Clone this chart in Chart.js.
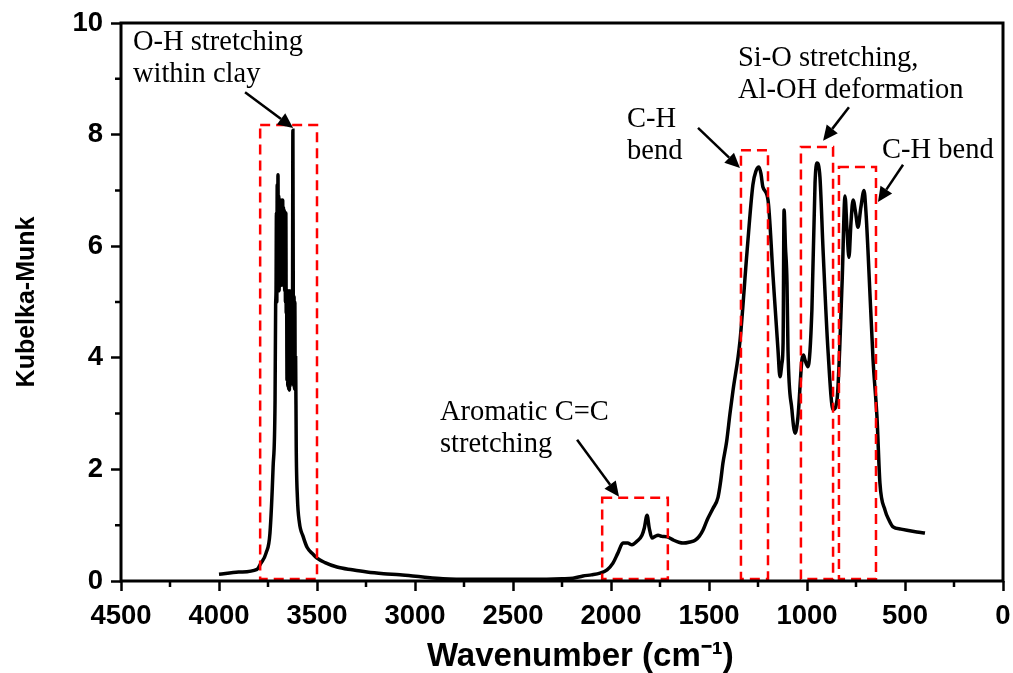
<!DOCTYPE html>
<html>
<head>
<meta charset="utf-8">
<script src="https://cdn.jsdelivr.net/npm/chart.js@4/dist/chart.umd.min.js"></script>
<style>
	html, body { margin: 0; padding: 0; background: #fff; }
	#wrap { width: 1013px; height: 673px; }
</style>
</head>
<body>
<div id="wrap"><canvas id="spectrum"></canvas></div>
<script>
// spectrum (wavenumber in cm-1, Kubelka-Munk units)
const wavenumber = [
	4000, 3900, 3806, 3786, 3760, 3740, 3724, 3714, 3711, 3709, 3707, 3705, 3703, 3701,
	3699, 3697, 3695, 3693, 3691, 3689, 3687, 3685, 3683, 3681, 3679, 3677, 3675, 3673,
	3671, 3669, 3667, 3665, 3663, 3661, 3659, 3657, 3655, 3653, 3651, 3649, 3647, 3645,
	3643, 3641, 3639, 3637, 3635, 3632, 3629, 3625, 3623, 3621, 3619, 3617, 3615, 3613,
	3611, 3609, 3606, 3600, 3590, 3571, 3550, 3520, 3500, 3459, 3398, 3320, 3245,
	3160, 3077, 2960, 2857, 2700, 2566, 2400, 2250, 2194, 2143, 2100, 2056, 2020, 1990,
	1965, 1939, 1915, 1893, 1865, 1842, 1830, 1816, 1805, 1791, 1775, 1760, 1740, 1714,
	1680, 1650, 1633, 1597, 1571, 1550, 1531, 1510, 1480, 1454, 1440, 1429, 1410, 1393,
	1378, 1342, 1306, 1276, 1260, 1245, 1235, 1225, 1199, 1173, 1148, 1138, 1128, 1122,
	1117, 1110, 1102, 1097, 1077, 1061, 1046, 1026, 1018, 1010, 995, 975, 959, 949,
	934, 918, 893, 867, 847, 821, 806, 796, 786, 776, 765, 752, 740, 725,
	709, 699, 689, 663, 643, 628, 602, 580, 561, 520, 490, 440, 398
];
const kubelkaMunk = [
	0.12, 0.16, 0.21, 0.32, 0.5, 0.86, 2.04, 3.24, 4.95, 5.2, 6.6, 5.0, 7.1, 5.3,
	7.28, 5.4, 6.9, 5.2, 6.7, 5.3, 6.8, 5.4, 6.83, 5.3, 6.8, 5.4, 6.83, 5.3,
	6.7, 5.5, 6.65, 5.2, 6.6, 5.0, 6.6, 4.8, 5.2, 3.6, 5.1, 3.5, 5.2, 3.45,
	5.0, 3.42, 5.2, 3.5, 5.1, 3.6, 5.0, 5.0, 8.08, 5.0, 3.5, 5.1, 3.45, 5.0,
	3.42, 4.0, 2.4, 1.5, 1.05, 0.8, 0.6, 0.48, 0.41, 0.33, 0.25, 0.2, 0.16,
	0.13, 0.11, 0.07, 0.04, 0.03, 0.03, 0.03, 0.04, 0.05, 0.09, 0.11, 0.14, 0.2, 0.32,
	0.5, 0.68, 0.68, 0.65, 0.72, 0.82, 0.95, 1.18, 0.95, 0.77, 0.8, 0.82, 0.8, 0.79,
	0.73, 0.69, 0.68, 0.7, 0.73, 0.8, 0.91, 1.09, 1.3, 1.5, 1.8, 2.11, 2.5, 3.0,
	3.4, 4.3, 5.9, 7.1, 7.35, 7.42, 7.3, 7.06, 6.83, 5.45, 4.14, 3.66, 3.9, 4.27,
	6.65, 6.0, 5.34, 4.14, 3.07, 2.65, 2.94, 3.96, 4.05, 3.96, 3.84, 4.86, 7.13, 7.49,
	7.24, 5.93, 4.14, 3.07, 3.24, 5.34, 6.9, 6.3, 5.8, 6.4, 6.83, 6.6, 6.34, 6.7,
	7.0, 6.6, 5.93, 3.96, 2.94, 1.76, 1.27, 1.08, 0.97, 0.93, 0.91, 0.88, 0.86
];

// band regions marked with dashed boxes: [from, to, top]
const bandFrom = [3790, 2045, 1337, 1031, 837];
const bandTo = [3500, 1710, 1199, 867, 648];
const bandTop = [8.17, 1.49, 7.72, 7.78, 7.42];

// annotation texts
const noteLines = [
	['O-H stretching', 'within clay'],
	['Aromatic C=C', 'stretching'],
	['C-H', 'bend'],
	['Si-O stretching,', 'Al-OH deformation'],
	['C-H bend']
];
// where each note sits (left edge, first baseline) and where its arrow goes
const noteAt = [[4439, 9.52], [2873, 2.89], [1918, 8.14], [1352, 9.23], [617, 7.58]];
const arrowFrom = [[3867, 8.76], [2173, 2.53], [1556, 8.12], [786, 8.49], [510, 7.46]];
const arrowTo = [[3622, 8.12], [1959, 1.51], [1342, 7.40], [918, 7.89], [638, 6.79]];

const points = wavenumber.map((w, i) => ({ x: w, y: kubelkaMunk[i] }));

const sans = '"Liberation Sans", Arial, sans-serif';

const framePlugin = {
	id: 'frame',
	afterDatasetsDraw(chart) {
		const ctx = chart.ctx;
		const xs = chart.scales.x, ys = chart.scales.y;
		const a = chart.chartArea;
		ctx.save();

		// dashed red boxes
		ctx.strokeStyle = '#ff0000';
		ctx.lineWidth = 2.5;
		ctx.setLineDash([10, 6]);
		for (let i = 0; i < bandFrom.length; i++) {
			const x1 = xs.getPixelForValue(bandFrom[i]);
			const x2 = xs.getPixelForValue(bandTo[i]);
			const y1 = ys.getPixelForValue(bandTop[i]);
			const y2 = ys.getPixelForValue(0) - 2;
			ctx.strokeRect(x1, y1, x2 - x1, y2 - y1);
		}
		ctx.setLineDash([]);

		// frame and minor ticks
		ctx.strokeStyle = '#000';
		ctx.lineWidth = 3;
		ctx.strokeRect(a.left, a.top, a.right - a.left, a.bottom - a.top);
		ctx.lineWidth = 2.5;
		ctx.beginPath();
		for (let v = 250; v < 4500; v += 500) {
			const px = xs.getPixelForValue(v);
			ctx.moveTo(px, a.bottom);
			ctx.lineTo(px, a.bottom + 6);
		}
		for (let v = 1; v < 10; v += 2) {
			const py = ys.getPixelForValue(v);
			ctx.moveTo(a.left, py);
			ctx.lineTo(a.left - 6, py);
		}
		ctx.stroke();

		// arrows
		ctx.fillStyle = '#000';
		ctx.lineWidth = 2.5;
		for (let i = 0; i < arrowFrom.length; i++) {
			const x1 = xs.getPixelForValue(arrowFrom[i][0]), y1 = ys.getPixelForValue(arrowFrom[i][1]);
			const x2 = xs.getPixelForValue(arrowTo[i][0]), y2 = ys.getPixelForValue(arrowTo[i][1]);
			const ang = Math.atan2(y2 - y1, x2 - x1);
			const len = 15, half = 7;
			const bx = x2 - len * Math.cos(ang), by = y2 - len * Math.sin(ang);
			ctx.beginPath();
			ctx.moveTo(x1, y1);
			ctx.lineTo(bx, by);
			ctx.stroke();
			ctx.beginPath();
			ctx.moveTo(x2, y2);
			ctx.lineTo(bx + half * Math.sin(ang), by - half * Math.cos(ang));
			ctx.lineTo(bx - half * Math.sin(ang), by + half * Math.cos(ang));
			ctx.closePath();
			ctx.fill();
		}

		// notes
		ctx.font = '28.5px "Liberation Serif", "Times New Roman", serif';
		ctx.textAlign = 'left';
		ctx.textBaseline = 'alphabetic';
		for (let i = 0; i < noteLines.length; i++) {
			const x = xs.getPixelForValue(noteAt[i][0]);
			const y = ys.getPixelForValue(noteAt[i][1]);
			noteLines[i].forEach((t, j) => ctx.fillText(t, x, y + j * 32));
		}
		ctx.restore();
	}
};

const ctx = document.getElementById('spectrum').getContext('2d');
new Chart(ctx, {
	type: 'line',
	data: {
		datasets: [{
			data: points,
			borderColor: '#000',
			borderWidth: 3.5,
			pointRadius: 0,
			cubicInterpolationMode: 'monotone',
			fill: false
		}]
	},
	options: {
		responsive: true,
		maintainAspectRatio: false,
		animation: false,
		events: [],
		layout: { padding: { top: 23, right: 10, bottom: 0, left: 0 } },
		plugins: {
			legend: { display: false },
			tooltip: { enabled: false }
		},
		scales: {
			x: {
				type: 'linear',
				reverse: true,
				min: 0,
				max: 4500,
				border: { display: false },
				grid: { drawOnChartArea: false, tickLength: 10, tickWidth: 2.5, tickColor: '#000' },
				ticks: { stepSize: 500, color: '#000', padding: 9, maxRotation: 0,
					callback: v => String(v),
					font: { family: sans, size: 27.5, weight: 'bold' } },
				title: { display: true, text: '\u00a0\u00a0\u00a0\u00a0Wavenumber (cm⁻¹)', color: '#000',
					font: { family: sans, size: 33, weight: 'bold', lineHeight: 1 }, padding: { top: 0, bottom: 0 } },
				afterFit(scale) {
					scale.height = 92;
					scale.paddingLeft = 0;
					scale.paddingRight = 0;
				}
			},
			y: {
				min: 0,
				max: 10,
				border: { display: false },
				grid: { drawOnChartArea: false, tickLength: 10, tickWidth: 2.5, tickColor: '#000' },
				ticks: { stepSize: 2, color: '#000', padding: 8,
					callback: v => String(v),
					font: { family: sans, size: 27.5, weight: 'bold' } },
				title: { display: true, text: 'Kubelka-Munk', color: '#000',
					font: { family: sans, size: 25, weight: 'bold' }, padding: { top: 12, bottom: 0 } },
				afterFit(scale) {
					scale.width = 121;
					scale.paddingTop = 0;
					scale.paddingBottom = 0;
				}
			}
		}
	},
	plugins: [framePlugin]
});
</script>
</body>
</html>
